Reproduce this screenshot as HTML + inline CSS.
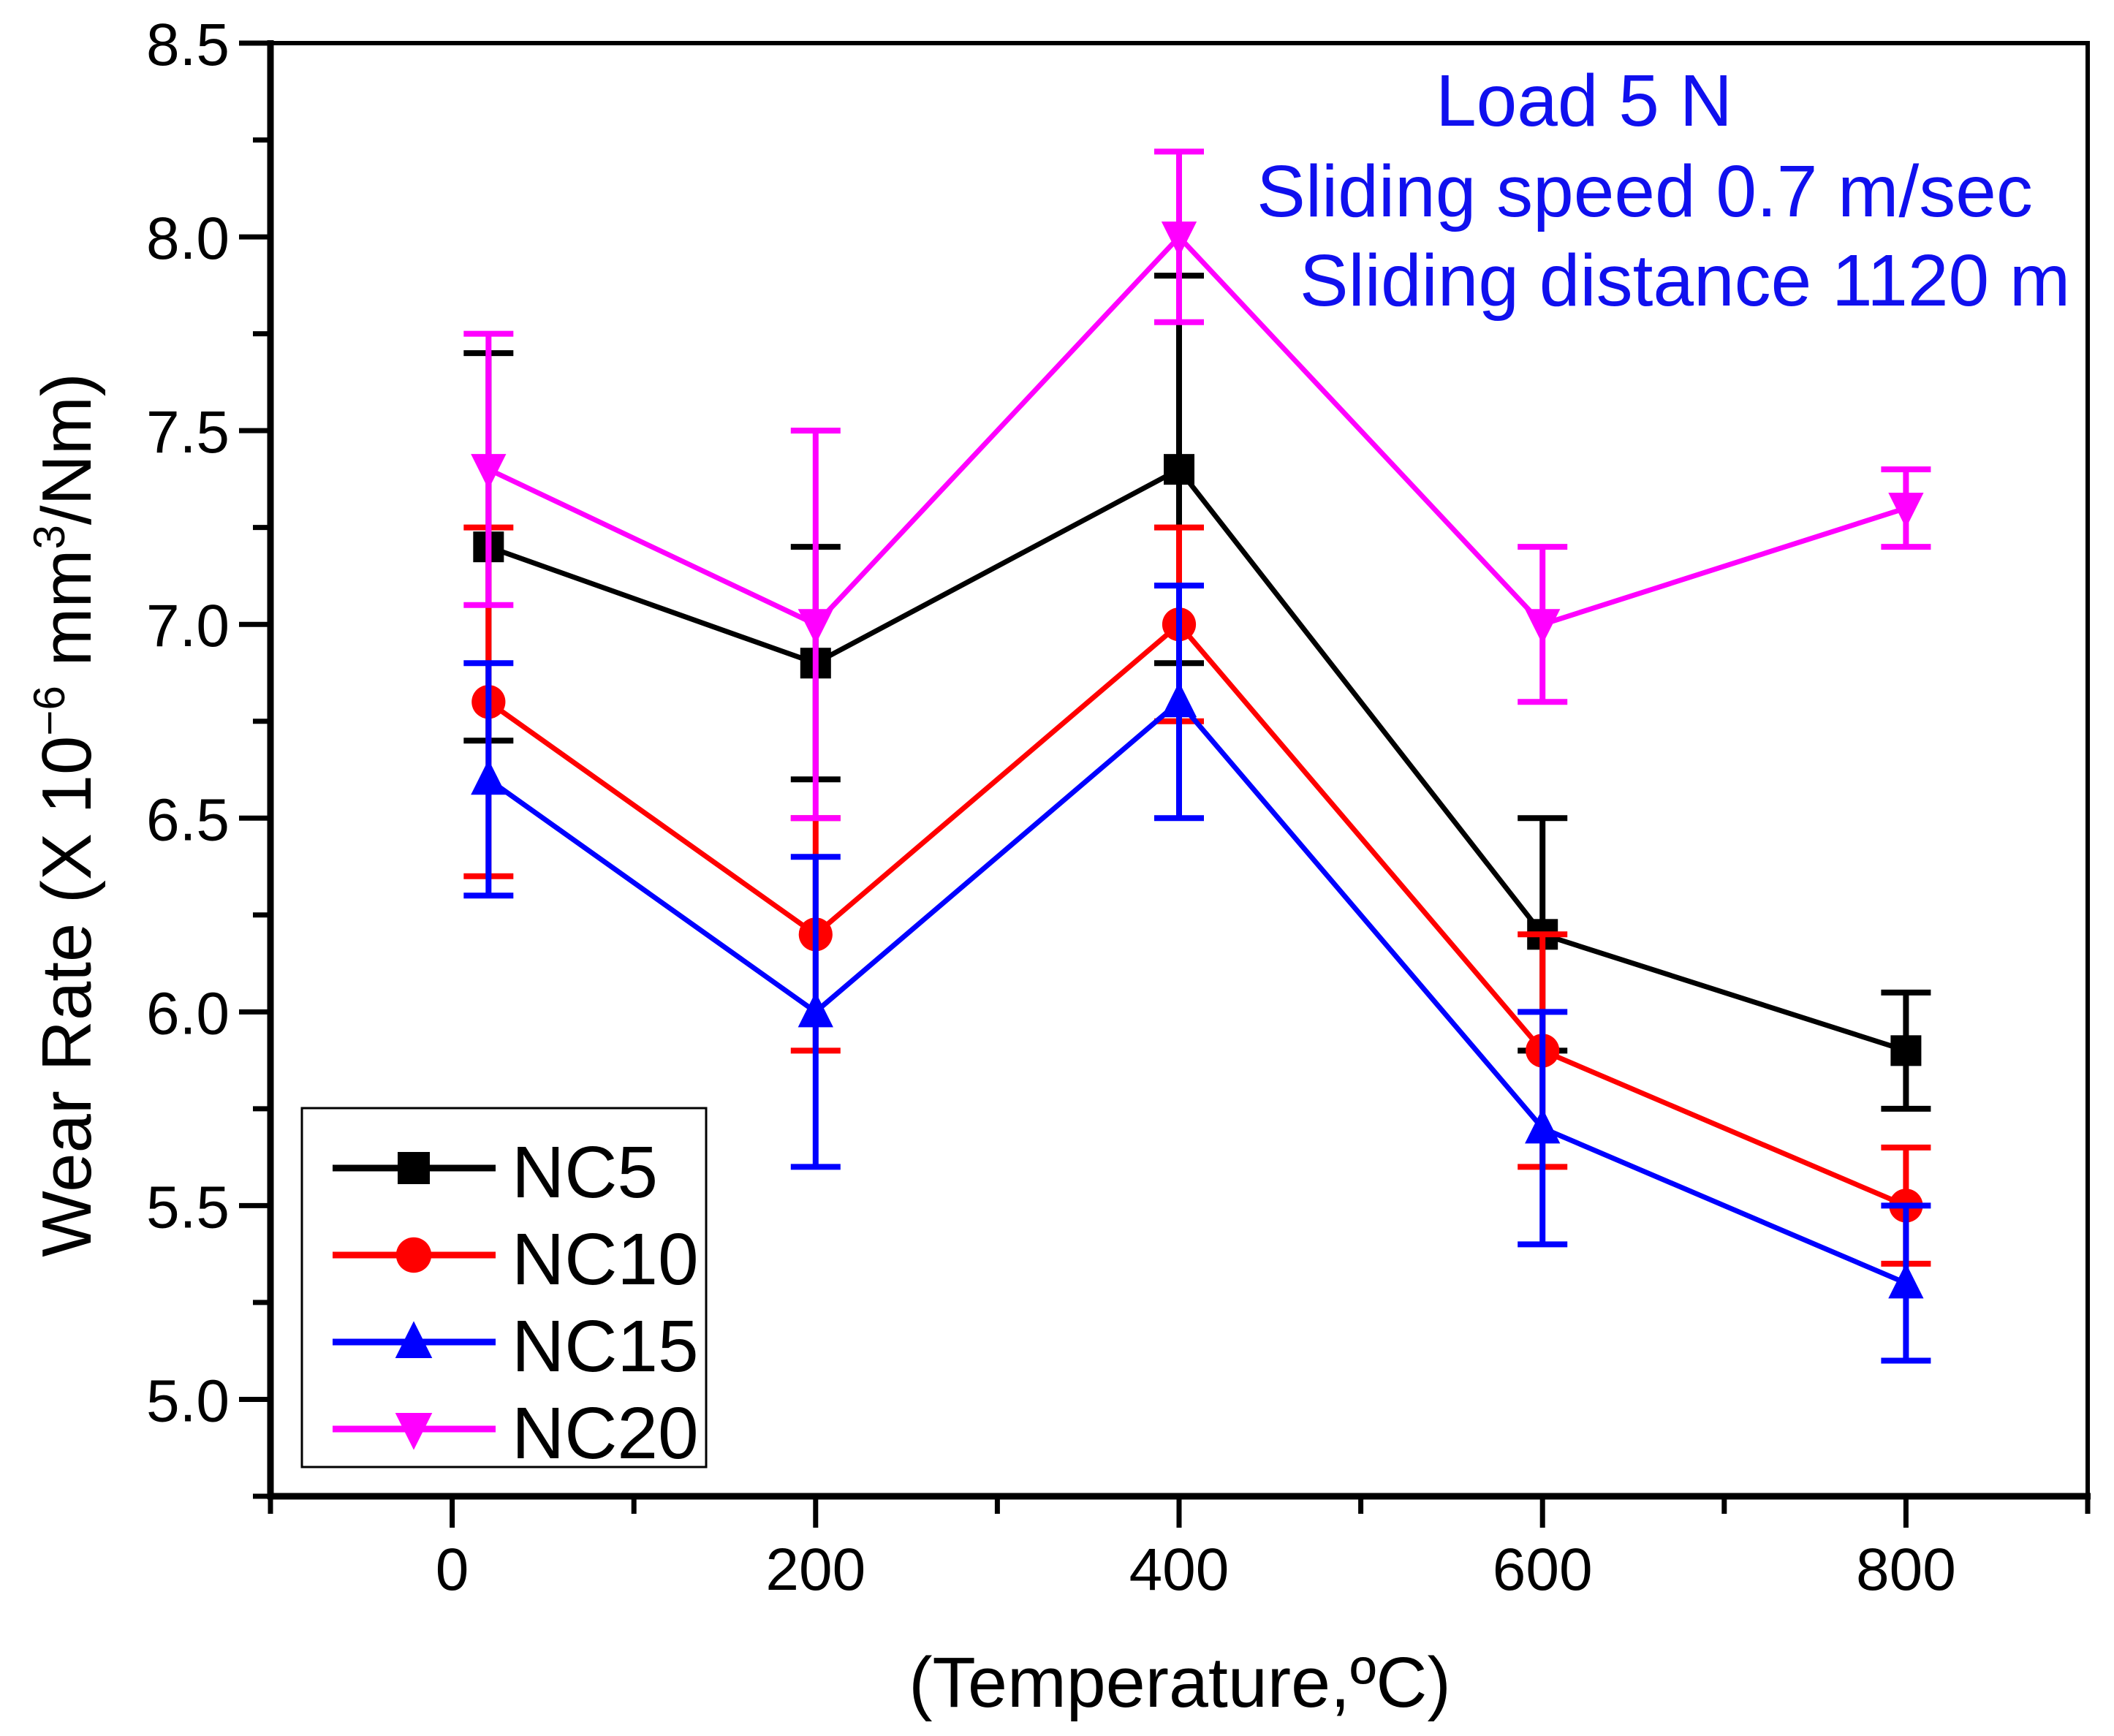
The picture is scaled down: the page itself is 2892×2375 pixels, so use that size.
<!DOCTYPE html>
<html><head><meta charset="utf-8"><style>
html,body{margin:0;padding:0;background:#fff;}
svg{display:block;font-family:"Liberation Sans",Arial,sans-serif;}
</style></head><body>
<svg id="chart" width="2892" height="2375" viewBox="0 0 2892 2375" xmlns="http://www.w3.org/2000/svg">
<rect x="0" y="0" width="2892" height="2375" fill="#fff"/>
<g id="series"></g>
<g id="axes"></g>
<text x="2167" y="172" font-size="100" fill="#1010ee" text-anchor="middle">Load 5 N</text>
<text x="2250" y="296" font-size="100" fill="#1010ee" text-anchor="middle">Sliding speed 0.7 m/sec</text>
<text x="2305" y="418" font-size="100" fill="#1010ee" text-anchor="middle">Sliding distance 1120 m</text>
<text transform="translate(124,1115) rotate(-90)" font-size="96" text-anchor="middle" fill="#000">Wear Rate (X 10<tspan dy="-36" font-size="60">−6</tspan><tspan dy="36"> mm</tspan><tspan dy="-36" font-size="60">3</tspan><tspan dy="36">/Nm)</tspan></text>
<text x="1614" y="2335" font-size="97" text-anchor="middle" fill="#000">(Temperature,ºC)</text>
<g id="legend"></g>
</svg>
<script>
const xValues = [20, 200, 400, 600, 800];
const seriesNames = ["NC5", "NC10", "NC15", "NC20"];
const nc5 = [7.2, 6.9, 7.4, 6.2, 5.9];
const nc5Err = [0.5, 0.3, 0.5, 0.3, 0.15];
const nc10 = [6.8, 6.2, 7.0, 5.9, 5.5];
const nc10Err = [0.45, 0.3, 0.25, 0.3, 0.15];
const nc15 = [6.6, 6.0, 6.8, 5.7, 5.3];
const nc15Err = [0.3, 0.4, 0.3, 0.3, 0.2];
const nc20 = [7.4, 7.0, 8.0, 7.0, 7.3];
const nc20Err = [0.35, 0.5, 0.22, 0.2, 0.1];
const yTickLabels = ["5.0", "5.5", "6.0", "6.5", "7.0", "7.5", "8.0", "8.5"];
const xTickLabels = ["0", "200", "400", "600", "800"];

const NS = "http://www.w3.org/2000/svg";
const L = 370, R = 2856, T = 59, B = 2047;
const xMin = -100, xMax = 900, yMin = 4.75, yMax = 8.5;
function sx(v){ return L + (v - xMin) / (xMax - xMin) * (R - L); }
function sy(v){ return B - (v - yMin) / (yMax - yMin) * (B - T); }
function mk(tag, attrs, parent){ const e = document.createElementNS(NS, tag); for (const k in attrs) e.setAttribute(k, attrs[k]); parent.appendChild(e); return e; }

const axes = document.getElementById("axes");
const frame = mk("rect", {x:L, y:T, width:R-L, height:B-T, fill:"none", stroke:"#000", "stroke-width":6}, axes);


const xAxis = mk("line", {x1:L-4, y1:B, x2:R+4, y2:B, stroke:"#000", "stroke-width":9}, axes);


const yAxis = mk("line", {x1:L, y1:T-4, x2:L, y2:B+4, stroke:"#000", "stroke-width":9}, axes);



for (let i = 0; i < yTickLabels.length; i++) {
  const v = parseFloat(yTickLabels[i]);
  const t = mk("line", {x1:L-43, y1:sy(v), x2:L, y2:sy(v), stroke:"#000", "stroke-width":7}, axes);
  
  
  const lb = mk("text", {x:L-56, y:sy(v)+30, "font-size":82, "text-anchor":"end", fill:"#000"}, axes);
  lb.textContent = yTickLabels[i];
  
  
  if (i < yTickLabels.length - 1) {
    const m = mk("line", {x1:L-24, y1:sy(v+0.25), x2:L, y2:sy(v+0.25), stroke:"#000", "stroke-width":7}, axes);
    
    
  }
}
{ const m = mk("line", {x1:L-24, y1:sy(4.75), x2:L, y2:sy(4.75), stroke:"#000", "stroke-width":7}, axes);
  
   }
for (let i = 0; i < xTickLabels.length; i++) {
  const v = parseFloat(xTickLabels[i]);
  const t = mk("line", {x1:sx(v), y1:B, x2:sx(v), y2:B+43, stroke:"#000", "stroke-width":7}, axes);
  
  
  const lb = mk("text", {x:sx(v), y:B+128, "font-size":82, "text-anchor":"middle", fill:"#000"}, axes);
  lb.textContent = xTickLabels[i];
  
  
}
for (let v = -100; v <= 900; v += 200) {
  const m = mk("line", {x1:sx(v), y1:B, x2:sx(v), y2:B+24, stroke:"#000", "stroke-width":7}, axes);
  
  
}

const colors = ["#000000", "#ff0000", "#0000ff", "#ff00ff"];
const markers = ["square", "circle", "triangle", "down-triangle"];
const values = [nc5, nc10, nc15, nc20];
const errs = [nc5Err, nc10Err, nc15Err, nc20Err];
const sg = document.getElementById("series");

function marker(type, cx, cy, color, parent, s) {
  let e;
  if (type === "square") e = mk("rect", {x:cx-s, y:cy-s, width:2*s, height:2*s, fill:color}, parent);
  else if (type === "circle") e = mk("circle", {cx:cx, cy:cy, r:s*1.1, fill:color}, parent);
  else if (type === "triangle") e = mk("polygon", {points:`${cx},${cy-s*1.3} ${cx-s*1.15},${cy+s} ${cx+s*1.15},${cy+s}`, fill:color}, parent);
  else e = mk("polygon", {points:`${cx},${cy+s*1.3} ${cx-s*1.15},${cy-s} ${cx+s*1.15},${cy-s}`, fill:color}, parent);
  return e;
}

for (let s = 0; s < values.length; s++) {
  const g = mk("g", {}, sg);
  
  
  const pts = xValues.map((x, i) => sx(x) + "," + sy(values[s][i])).join(" ");
  const pl = mk("polyline", {points:pts, fill:"none", stroke:colors[s], "stroke-width":7}, g);
  
  
  for (let i = 0; i < xValues.length; i++) {
    const cx = sx(xValues[i]), v = values[s][i], e = errs[s][i];
    const eb = mk("path", {d:`M${cx},${sy(v+e)}V${sy(v-e)}M${cx-34},${sy(v+e)}H${cx+34}M${cx-34},${sy(v-e)}H${cx+34}`, stroke:colors[s], "stroke-width":8, fill:"none"}, g);
    
    
    const m = marker(markers[s], cx, sy(v), colors[s], g, 21);
    
    
  }
}

const lg = document.getElementById("legend");
const box = mk("rect", {x:413, y:1516, width:553, height:491, fill:"#fff", stroke:"#000", "stroke-width":3}, lg);


for (let s = 0; s < seriesNames.length; s++) {
  const y = 1598 + s * 119;
  const g = mk("g", {}, lg);
  
  
  mk("line", {x1:455, y1:y, x2:678, y2:y, stroke:colors[s], "stroke-width":9}, g);
  marker(markers[s], 566, y, colors[s], g, 22);
  const t = mk("text", {x:700, y:y+40, "font-size":100, fill:"#000"}, g);
  t.textContent = seriesNames[s];
}
</script>
</body></html>
